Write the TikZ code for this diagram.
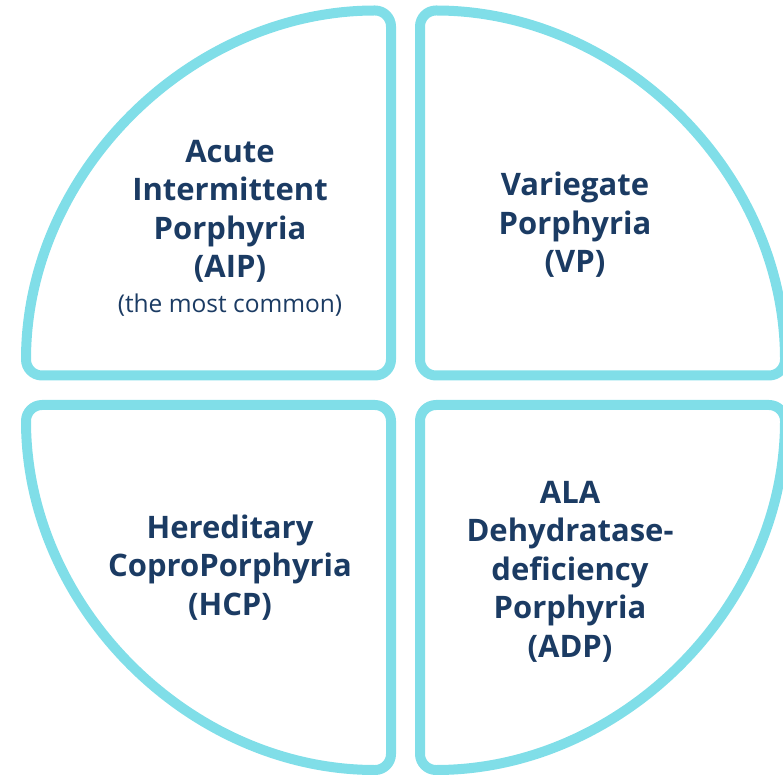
\documentclass[tikz,border=0pt]{standalone}
\usepackage{fontspec}
\setmainfont{Open Sans}
\definecolor{ringcyan}{HTML}{80DEE8}
\definecolor{labelnavy}{HTML}{1B3B63}
\begin{document}
\begin{tikzpicture}[x=1pt,y=1pt,
  quadrant/.style={draw=ringcyan, line width=10pt, rounded corners=16pt, line join=round},
  title/.style={text=labelnavy, align=center, inner sep=0pt,
    font=\fontsize{31}{38.5}\selectfont\bfseries},
  note/.style={text=labelnavy, inner sep=0pt, font=\fontsize{24.5}{30}\selectfont}]
\useasboundingbox (0,0) rectangle (783,774);
% four quarter discs, each with its own corner as centre
\draw[quadrant] (391,398.5) -- (391,763.5) arc[start angle=90, end angle=180, radius=365] -- cycle;
\draw[quadrant] (420,398.5) -- (420,763.5) arc[start angle=90, end angle=0, radius=365] -- cycle;
\draw[quadrant] (391,369) -- (391,4) arc[start angle=270, end angle=180, radius=365] -- cycle;
\draw[quadrant] (420,369) -- (420,4) arc[start angle=-90, end angle=0, radius=365] -- cycle;
% labels (base anchor sits on the last line)
\node[title, anchor=base] (aip) at (230,496) {Acute\\Intermittent\\Porphyria\\(AIP)};
\node[note, anchor=base] (aipnote) at (230,461) {(the most common)};
\node[title, anchor=base] (vp) at (575,501) {Variegate\\Porphyria\\(VP)};
\node[title, anchor=base] (hcp) at (230,159) {Hereditary\\CoproPorphyria\\(HCP)};
\node[title, anchor=base] (adp) at (570,117) {ALA\\Dehydratase-\\deficiency\\Porphyria\\(ADP)};
\end{tikzpicture}
\end{document}
